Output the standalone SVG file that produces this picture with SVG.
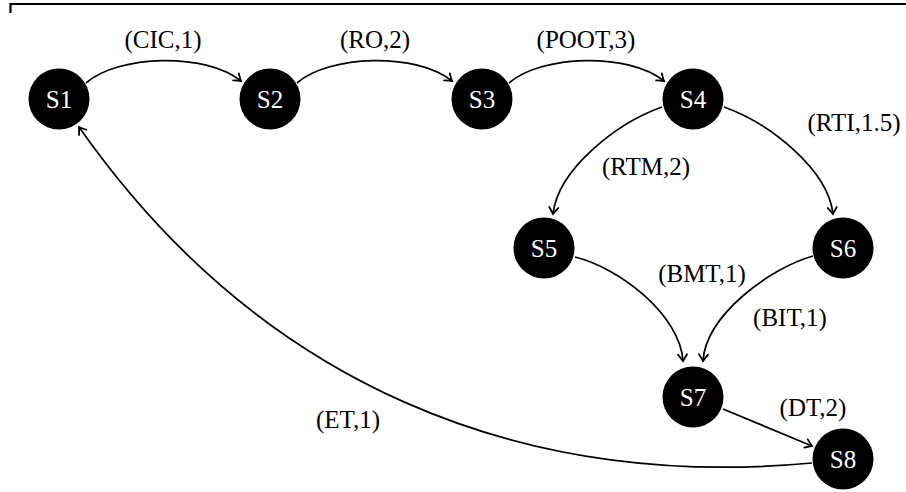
<svg xmlns="http://www.w3.org/2000/svg" width="906" height="492" viewBox="0 0 906 492">
  <style>
    .node circle { fill: #000; }
    .node text { fill: #fff; font-family: "Liberation Serif", serif; font-size: 25px; text-anchor: middle; }
    .edge { fill: none; stroke: #000; stroke-width: 1.7; marker-end: url(#arr); }
    .lbl { fill: #000; font-family: "Liberation Serif", serif; font-size: 25px; text-anchor: middle; }
  </style>
  <defs>
    <marker id="arr" markerWidth="12" markerHeight="12" viewBox="-8 -6 10 12" refX="0" refY="0" orient="auto" markerUnits="userSpaceOnUse">
      <path d="M-6.5,-4.5 Q-2,-1.2 0,0 Q-2,1.2 -6.5,4.5" fill="none" stroke="#000" stroke-width="1.8" stroke-linecap="round"/>
    </marker>
  </defs>
  <rect width="906" height="492" fill="#fff"/>
  <path d="M10.5,13 V4 H906" fill="none" stroke="#000" stroke-width="2.2"/>

  <g id="connectors">
    <path class="edge" d="M86,83 C118,55 205,52 241,81"/>
    <path class="edge" d="M297,83 C329,55 416,52 452,81"/>
    <path class="edge" d="M509,83 C541,55 628,52 664,81"/>
    <path class="edge" d="M662,107 C617,123 558,169 553,214"/>
    <path class="edge" d="M724,107 C769,123 828,169 833,214"/>
    <path class="edge" d="M575,257 C620,268 680,315 683,361"/>
    <path class="edge" d="M813,256 C770,268 706,315 703,361"/>
    <path class="edge" d="M723,409 L812,446"/>
    <path class="edge" d="M812,463 C520,490 260,385 79,127"/>
    <text class="lbl" x="163" y="48">(CIC,1)</text>
    <text class="lbl" x="375" y="48">(RO,2)</text>
    <text class="lbl" x="586" y="48">(POOT,3)</text>
    <text class="lbl" x="854" y="131">(RTI,1.5)</text>
    <text class="lbl" x="646" y="175">(RTM,2)</text>
    <text class="lbl" x="702" y="282">(BMT,1)</text>
    <text class="lbl" x="790" y="326">(BIT,1)</text>
    <text class="lbl" x="813" y="416">(DT,2)</text>
    <text class="lbl" x="348" y="428">(ET,1)</text>
  </g>

  <g id="S1" class="node"><circle cx="59" cy="99" r="30.5"/><text x="59" y="108">S1</text></g>
  <g id="S2" class="node"><circle cx="270" cy="99" r="30.5"/><text x="270" y="108">S2</text></g>
  <g id="S3" class="node"><circle cx="482" cy="99" r="30.5"/><text x="482" y="108">S3</text></g>
  <g id="S4" class="node"><circle cx="693" cy="99" r="30.5"/><text x="693" y="108">S4</text></g>
  <g id="S5" class="node"><circle cx="544" cy="248" r="30.5"/><text x="544" y="257">S5</text></g>
  <g id="S6" class="node"><circle cx="843" cy="248" r="30.5"/><text x="843" y="257">S6</text></g>
  <g id="S7" class="node"><circle cx="693" cy="397" r="30.5"/><text x="693" y="406">S7</text></g>
  <g id="S8" class="node"><circle cx="843" cy="459" r="30.5"/><text x="843" y="468">S8</text></g>
</svg>
